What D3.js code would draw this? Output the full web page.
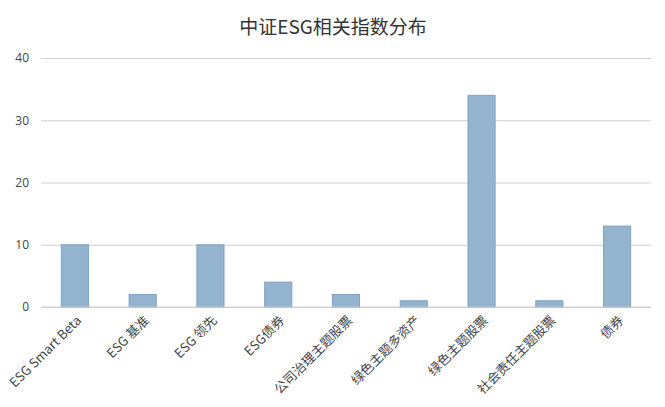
<!DOCTYPE html>
<html><head><meta charset="utf-8">
<script src="https://cdn.jsdelivr.net/npm/d3@7"></script>
<style>
body{margin:0;background:#fff;}
text{font-family:"Noto Sans CJK SC","Noto Sans",sans-serif;}
</style></head>
<body><svg id="c" width="665" height="407"></svg>
<script>
const categories = ["ESG Smart Beta","ESG 基准","ESG 领先","ESG债券","公司治理主题股票","绿色主题多资产","绿色主题股票","社会责任主题股票","债券"];
const values = [10, 2, 10, 4, 2, 1, 34, 1, 13];
const yTicks = [0, 10, 20, 30, 40];
const title = "中证ESG相关指数分布";

const svg = d3.select("#c");
const mLeft = 41, mRight = 651, mTop = 58, mBottom = 307;
const x = d3.scaleBand().domain(categories).range([mLeft, mRight]).paddingInner(0.6).paddingOuter(0.3);
const y = d3.scaleLinear().domain([0, 40]).range([mBottom, mTop]);

svg.append("text").attr("x", 333).attr("y", 34).attr("text-anchor", "middle")
  .attr("font-size", 19).attr("fill", "#333").text(title);

const yAxis = svg.append("g").attr("transform", `translate(${mLeft},0)`)
  .call(d3.axisLeft(y).tickValues(yTicks).tickSize(-(mRight - mLeft)).tickPadding(12));
yAxis.select(".domain").remove();
yAxis.selectAll(".tick line").attr("stroke", "#d0d0d0").attr("stroke-width", 1);
yAxis.selectAll(".tick text").attr("font-size", 12).attr("fill", "#444")
  .style("font-family", "'Open Sans',sans-serif");

svg.append("g").selectAll("rect").data(values).join("rect")
  .attr("x", (d, i) => x(categories[i]))
  .attr("width", x.bandwidth())
  .attr("y", d => y(d))
  .attr("height", d => y(0) - y(d))
  .attr("fill", "#93b3cf").attr("stroke", "#7fa2c4").attr("stroke-width", 1);

svg.append("line").attr("x1", mLeft).attr("x2", mRight).attr("y1", y(0)).attr("y2", y(0))
  .attr("stroke", "#d0d0d0");

svg.append("g").selectAll("text").data(categories).join("text")
  .attr("transform", d => `translate(${x(d) + x.bandwidth() / 2 + 4},${mBottom + 11}) rotate(-45)`)
  .attr("text-anchor", "end").attr("dy", "0.35em")
  .attr("font-size", 13).attr("fill", "#444").text(d => d);
</script></body></html>
